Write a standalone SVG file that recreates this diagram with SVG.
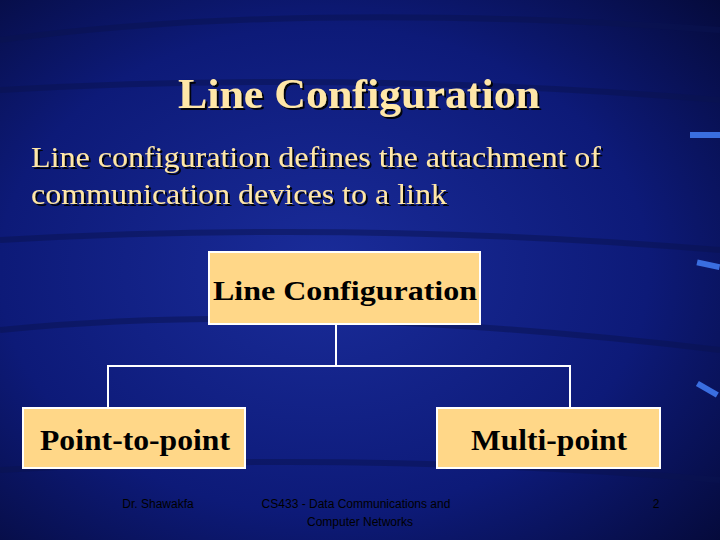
<svg xmlns="http://www.w3.org/2000/svg" width="720" height="540" viewBox="0 0 720 540">
<defs>
<radialGradient id="bg" cx="0.45" cy="0.5" r="0.75">
<stop offset="0" stop-color="#1a2c9a"/><stop offset="0.6" stop-color="#0d1a78"/><stop offset="1" stop-color="#050a3a"/>
</radialGradient>
<filter id="sh" x="-5%" y="-20%" width="110%" height="140%"><feDropShadow dx="2" dy="2" stdDeviation="0.5" flood-color="#000" flood-opacity="0.9"/></filter>
<style>
.t{font-family:"Liberation Serif",serif;fill:#FFE7A8;filter:url(#sh)}
.b{fill:#FFD788;stroke:#fff;stroke-width:2}
.l{font-family:"Liberation Serif",serif;fill:#000;font-weight:bold;text-anchor:middle}
.f{font-family:"Liberation Sans",sans-serif;fill:#000;font-size:12px;text-anchor:middle}
.s{stroke:#0a1350;fill:none;opacity:0.5}
</style>
</defs>
<rect width="720" height="540" fill="url(#bg)"/>
<g class="s" stroke-width="6">
<path d="M0 40 Q300 0 720 30"/><path d="M0 90 Q360 70 720 100"/><path d="M0 240 Q360 220 720 250"/><path d="M0 330 Q300 300 720 350"/><path d="M0 470 Q360 450 720 480"/>
</g>
<g fill="#3a6ee0"><rect x="690" y="132" width="30" height="6"/><rect x="697" y="260" width="23" height="6" transform="rotate(12 700 263)"/><rect x="697" y="382" width="23" height="6" transform="rotate(30 700 385)"/></g>
<text class="t" x="178" y="108" font-size="42" font-weight="bold" textLength="362" lengthAdjust="spacingAndGlyphs">Line Configuration</text>
<text class="t" x="31" y="167" font-size="29" textLength="570" lengthAdjust="spacingAndGlyphs">Line configuration defines the attachment of</text>
<text class="t" x="31" y="204" font-size="29" textLength="416" lengthAdjust="spacingAndGlyphs">communication devices to a link</text>
<g id="connectors" stroke="#fff" stroke-width="2" fill="none">
<path d="M336 324 V366 M108 408 V366 H570 V408"/>
</g>
<g id="root"><rect class="b" x="209" y="252" width="271" height="72"/><text class="l" x="345" y="300" font-size="28" textLength="264" lengthAdjust="spacingAndGlyphs">Line Configuration</text></g>
<g id="p2p"><rect class="b" x="23" y="408" width="222" height="60"/><text class="l" x="135" y="450" font-size="29" textLength="190" lengthAdjust="spacingAndGlyphs">Point-to-point</text></g>
<g id="mp"><rect class="b" x="437" y="408" width="223" height="60"/><text class="l" x="549" y="450" font-size="29" textLength="156" lengthAdjust="spacingAndGlyphs">Multi-point</text></g>
<text class="f" x="158" y="508">Dr. Shawakfa</text>
<text class="f" x="356" y="508">CS433 - Data Communications and</text>
<text class="f" x="360" y="526">Computer Networks</text>
<text class="f" x="656" y="508">2</text>
</svg>
